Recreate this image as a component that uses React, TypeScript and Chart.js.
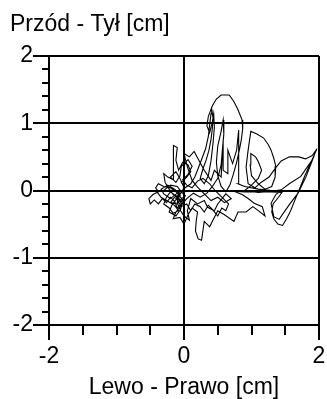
import React, { useEffect, useRef } from 'react';
import { Chart, registerables } from 'chart.js';

Chart.register(...registerables);

const titleText = 'Przód - Tył [cm]';
const xTitleText = 'Lewo - Prawo [cm]';
const xMajorTicks = [-2, 0, 2];
const yMajorTicks = [-2, -1, 0, 1, 2];
const xGridValues = [-2, 0, 2];
const yGridValues = [-2, -1, 0, 1, 2];

// Centre-of-pressure path (Lewo-Prawo, Przód-Tył), in cm
const copX = [
  -0.05, -0.12, -0.2, -0.3, -0.38, -0.42, -0.38, -0.46, -0.52, -0.5, -0.44, -0.38, -0.32, -0.26, -0.2, -0.14, -0.1, -0.04, -0.08, -0.16,
  -0.22, -0.28, -0.3, -0.24, -0.16, -0.16, -0.15, -0.16, -0.1, -0.12, -0.08, -0.02, 0.06, 0.1, 0.04, -0.04, 0.02, 0.1, 0.16, 0.2,
  0.26, 0.32, 0.36, 0.38, 0.4, 0.41, 0.43, 0.42, 0.4, 0.37, 0.33, 0.28, 0.24, 0.3, 0.36, 0.4, 0.43, 0.45, 0.44, 0.42,
  0.38, 0.34, 0.36, 0.42, 0.48, 0.55, 0.67, 0.74, 0.8, 0.86, 0.87, 0.85, 0.82, 0.78, 0.73, 0.68, 0.62, 0.55, 0.5, 0.48,
  0.5, 0.55, 0.58, 0.59, 0.57, 0.55, 0.5, 0.42, 0.34, 0.24, 0.14, 0.04, -0.04, -0.12,
  -0.16, -0.06, 0.0, 0.06, 0.12, 0.2, 0.18, 0.17, 0.21, 0.26, 0.28, 0.3, 0.38, 0.44, 0.5, 0.6, 0.74, 0.8, 0.92, 1.02,
  1.1, 1.2, 1.16, 1.04, 0.95, 0.86, 0.74,
  0.9, 1.1, 1.3, 1.45, 1.4, 1.32, 1.3, 1.33, 1.39, 1.46, 1.52, 1.58, 1.64, 1.71, 1.79, 1.87, 1.93, 1.97, 1.9, 1.8,
  1.7, 1.56, 1.44, 1.36, 1.26, 1.14, 1.05, 0.95, 0.92, 0.95, 0.99, 1.08, 1.18, 1.25, 1.29, 1.33, 1.36, 1.35, 1.3, 1.2,
  1.1, 1.0, 0.98, 0.99, 1.06, 1.1, 1.15, 1.1, 1.0, 0.9,
  1.1, 1.3, 1.44, 1.56, 1.73, 1.91, 1.81, 1.69, 1.56, 1.41, 1.33, 1.29, 1.36, 1.44, 1.3, 1.1, 0.9,
  0.8, 0.81, 0.81, 0.78, 0.72, 0.65, 0.65, 0.58, 0.58, 0.55, 0.45, 0.4, 0.3, 0.22, 0.15, 0.08, 0.0, 0.05, 0.12, 0.2,
  0.3, 0.4, 0.5, 0.6, 0.7, 0.62, 0.5, 0.45, 0.35, 0.3, 0.2, 0.1, 0.05, 0.08, 0.0, -0.05, -0.1, -0.08, -0.18, -0.22,
  -0.12, -0.05, -0.02, -0.1, -0.2, -0.3, -0.34, -0.24, -0.14, -0.06, -0.12, -0.04, 0.02, -0.06, -0.1,
  -0.2, -0.26, -0.3, -0.22, -0.16, -0.08, -0.14, -0.24, -0.34, -0.4, -0.3, -0.2, -0.1, -0.04, -0.1, -0.04, 0.04, 0.1, 0.16, 0.24,
  0.3, 0.36, 0.42, 0.5, 0.56, 0.62, 0.66, 0.56, 0.46, 0.38, 0.28, 0.2, 0.12, 0.04, -0.02, 0.06, 0.12, 0.06, -0.04, -0.06,
  -0.12, -0.2, -0.12, -0.06, 0.0, -0.06, -0.14, -0.2, -0.1, -0.02,
];
const copY = [
  -0.08, -0.02, 0.04, 0.06, 0.1, 0.04, -0.02, -0.06, -0.12, -0.2, -0.14, -0.2, -0.12, -0.18, -0.1, -0.16, -0.26, -0.2, -0.1, -0.06,
  0.02, 0.12, 0.25, 0.2, 0.16, 0.32, 0.5, 0.67, 0.64, 0.45, 0.3, 0.42, 0.38, 0.28, 0.2, 0.12, 0.04, 0.1, 0.2, 0.3,
  0.46, 0.62, 0.8, 0.98, 1.14, 1.22, 1.08, 0.92, 0.76, 0.6, 0.46, 0.32, 0.18, 0.1, 0.22, 0.44, 0.7, 0.94, 1.14, 1.02,
  0.86, 0.96, 1.1, 1.26, 1.36, 1.42, 1.42, 1.32, 1.2, 1.05, 0.92, 0.76, 0.6, 0.42, 0.24, 0.08, -0.02, 0.06, 0.22, 0.42,
  0.66, 0.88, 1.05, 0.84, 0.62, 0.38, 0.18, 0.06, -0.04, -0.1, -0.04, -0.12, -0.22, -0.32,
  -0.42, -0.4, -0.5, -0.36, -0.26, -0.32, -0.46, -0.6, -0.72, -0.74, -0.6, -0.46, -0.54, -0.42, -0.3, -0.36, -0.46, -0.32, -0.32, -0.24,
  -0.3, -0.38, -0.24, -0.19, -0.12, -0.06, -0.01,
  -0.02, -0.02, -0.02, -0.03, -0.1, -0.2, -0.32, -0.42, -0.5, -0.52, -0.42, -0.3, -0.15, 0.02, 0.22, 0.4, 0.53, 0.62, 0.52, 0.47,
  0.5, 0.5, 0.44, 0.34, 0.2, 0.12, 0.04, 0.1, 0.35, 0.6, 0.88, 0.84, 0.78, 0.68, 0.6, 0.48, 0.36, 0.2, 0.06, 0.02,
  0.1, 0.22, 0.38, 0.55, 0.5, 0.43, 0.3, 0.18, 0.08, 0.0,
  -0.03, -0.01, 0.01, 0.1, 0.21, 0.47, 0.21, -0.04, -0.21, -0.43, -0.39, -0.19, -0.06, 0.0, 0.0, 0.02, 0.06,
  0.1, 0.45, 0.9, 0.6, 0.4, 0.6, 0.25, 0.3, 0.75, 0.2, 0.3, 0.15, 0.3, 0.45, 0.58, 0.5, 0.55, 0.35, 0.15, 0.05,
  -0.05, -0.15, -0.1, -0.18, -0.12, -0.05, -0.2, -0.3, -0.25, -0.15, -0.2, -0.12, -0.3, -0.44, -0.38, -0.3, -0.18, -0.08, -0.22, -0.32,
  -0.38, -0.28, -0.14, -0.04, -0.12, -0.05, 0.02, 0.08, 0.02, -0.05, -0.12, -0.16, -0.08, 0.0, -0.1,
  -0.02, -0.1, -0.2, -0.26, -0.34, -0.3, -0.22, -0.16, -0.1, -0.02, 0.0, 0.08, 0.06, -0.02, -0.14, -0.24, -0.2, -0.3, -0.2, -0.24,
  -0.32, -0.22, -0.28, -0.38, -0.26, -0.3, -0.2, -0.1, 0.0, 0.1, 0.18, 0.14, 0.04, 0.08, 0.16, 0.24, 0.36, 0.46, 0.36, 0.22,
  0.12, 0.2, 0.28, 0.18, 0.04, -0.06, -0.1, -0.18, -0.2, -0.1,
];

const FONT = 'Liberation Sans, Arial, sans-serif';
const near = (v: number, arr: number[]) => arr.some((a) => Math.abs(a - v) < 1e-6);

const tickMarks = {
  id: 'tickMarks',
  afterDraw(chart: any) {
    const ctx = chart.ctx;
    const { left, bottom } = chart.chartArea;
    const xs = chart.scales.x;
    const ys = chart.scales.y;
    ctx.save();
    ctx.strokeStyle = '#000';
    ctx.lineWidth = 2;
    ctx.beginPath();
    xs.ticks.forEach((t: any) => {
      const px = Math.round(xs.getPixelForValue(t.value));
      const len = near(t.value, xMajorTicks) ? 15 : 10;
      ctx.moveTo(px, bottom);
      ctx.lineTo(px, bottom + len);
    });
    ys.ticks.forEach((t: any) => {
      const py = Math.round(ys.getPixelForValue(t.value));
      const len = near(t.value, yMajorTicks) ? 16 : 7;
      ctx.moveTo(left, py);
      ctx.lineTo(left - len, py);
    });
    ctx.stroke();
    ctx.restore();
  },
};

export default function App() {
  const ref = useRef<HTMLCanvasElement>(null);
  useEffect(() => {
    if (!ref.current) return;
    const points = copX.map((x, i) => ({ x, y: copY[i] }));
    const chart = new Chart(ref.current, {
      type: 'scatter',
      data: {
        datasets: [
          {
            data: points,
            showLine: true,
            borderColor: '#000',
            backgroundColor: '#000',
            borderWidth: 1.1,
            pointRadius: 0,
            tension: 0,
          },
        ],
      },
      options: {
        responsive: false,
        animation: false,
        layout: { padding: { left: 10, right: 8, top: 0, bottom: 0 } },
        plugins: {
          legend: { display: false },
          tooltip: { enabled: false },
          title: {
            display: true,
            text: titleText,
            align: 'start',
            color: '#000',
            font: { family: FONT, size: 23, weight: 'normal', lineHeight: 1.2 },
            padding: { top: 10.5, bottom: 17.9 },
          },
        },
        scales: {
          x: {
            type: 'linear',
            min: -2,
            max: 2,
            ticks: {
              stepSize: 0.5,
              autoSkip: false,
              maxRotation: 0,
              color: '#000',
              padding: 18,
              font: { family: FONT, size: 23 },
              callback: (v: any) => (near(Number(v), xMajorTicks) ? String(Math.round(Number(v))) : ''),
            },
            grid: {
              drawTicks: false,
              lineWidth: 2,
              color: (c: any) => (c.tick && near(c.tick.value, xGridValues) ? '#000' : 'rgba(0,0,0,0)'),
            },
            border: { display: false },
            title: {
              display: true,
              text: xTitleText,
              color: '#000',
              font: { family: FONT, size: 23, lineHeight: 1 },
              padding: { top: 0, bottom: 0 },
            },
            afterFit: (s: any) => {
              s.height = 74;
              s.paddingLeft = 0;
              s.paddingRight = 0;
            },
          },
          y: {
            type: 'linear',
            min: -2,
            max: 2,
            ticks: {
              stepSize: 0.2,
              maxTicksLimit: 40,
              autoSkip: false,
              color: '#000',
              padding: 16,
              font: { family: FONT, size: 23 },
              callback: (v: any) => (near(Number(v), yMajorTicks) ? String(Math.round(Number(v))) : ''),
            },
            grid: {
              drawTicks: false,
              lineWidth: 2,
              color: (c: any) => (c.tick && near(c.tick.value, yGridValues) ? '#000' : 'rgba(0,0,0,0)'),
            },
            border: { display: false },
            afterFit: (s: any) => {
              s.width = 39;
              s.paddingTop = 0;
              s.paddingBottom = 0;
            },
          },
        },
      },
      plugins: [tickMarks],
    } as any);
    return () => chart.destroy();
  }, []);
  return (
    <div style={{ position: 'absolute', left: 0, top: 0, width: 327, height: 399 }}>
      <canvas ref={ref} width={327} height={399} style={{ display: 'block' }} />
    </div>
  );
}
